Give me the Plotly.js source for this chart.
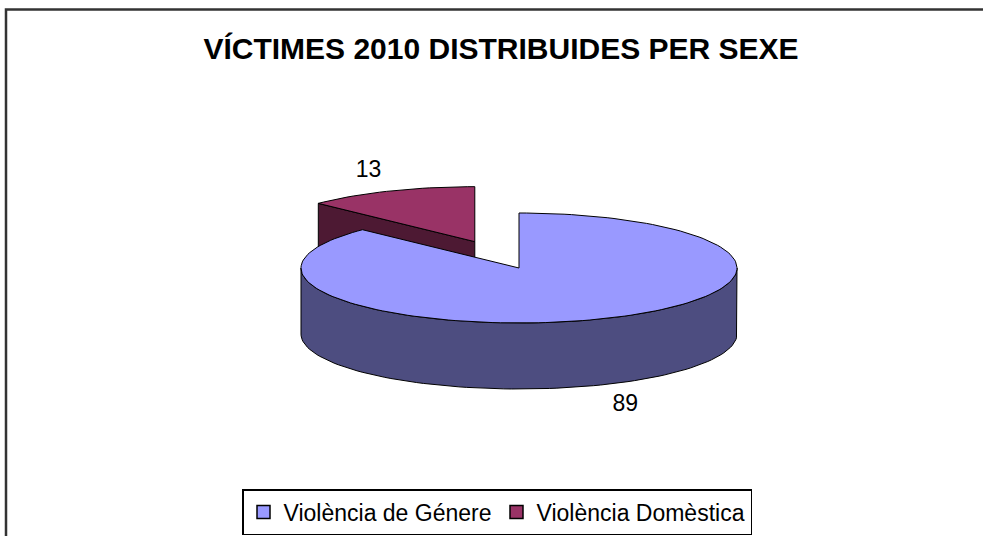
<!DOCTYPE html>
<html>
<head>
<meta charset="utf-8">
<script src="https://cdn.plot.ly/plotly-3.0.1.min.js"></script>
<style>html,body{margin:0;padding:0;background:#fff;}#chart{width:983px;height:536px;}</style>
</head>
<body>
<div id="chart"></div>
<script>
// ---- data ----
var labels = ['Violència de Génere', 'Violència Domèstica'];
var values = [89, 13];
var topColors = ['#9999FF', '#993366'];
var sideColors = ['#4D4D80', '#4D1933'];
var titleText = 'VÍCTIMES 2010 DISTRIBUIDES PER SEXE';

// ---- geometry of the 3D pie (pixel-like axis units) ----
var W = 983, H = 536;
var cx = 519, cy = 268, rx = 218, ry = 55, depth = 66;
var pulls = [0, 0.52];
var total = values.reduce(function (a, b) { return a + b; }, 0);
var RAD = Math.PI / 180;

function rim(x0, y0, a, dz) { return [x0 + rx * Math.cos(a * RAD), y0 - ry * Math.sin(a * RAD) + (dz || 0)]; }
function arc(x0, y0, a1, a2, dz) {
  var pts = [], n = Math.max(2, Math.ceil(Math.abs(a2 - a1) / 2));
  for (var i = 0; i <= n; i++) { pts.push(rim(x0, y0, a1 + (a2 - a1) * i / n, dz)); }
  return pts;
}
function trace(pts, fill, name) {
  return {
    x: pts.map(function (p) { return p[0]; }), y: pts.map(function (p) { return p[1]; }),
    mode: 'lines', fill: 'toself', fillcolor: fill, line: { color: '#000', width: 1 },
    hoverinfo: 'skip', showlegend: false, name: name
  };
}

// slices: start at 12 o'clock, clockwise
var slices = [], start = 90;
values.forEach(function (v, i) {
  var sweep = v / total * 360;
  var a1 = start, a2 = start - sweep, mid = (a1 + a2) / 2;
  var ox = cx + pulls[i] * rx * Math.cos(mid * RAD);
  var oy = cy - pulls[i] * ry * Math.sin(mid * RAD);
  slices.push({ i: i, a1: a1, a2: a2, mid: mid, ox: ox, oy: oy });
  start = a2;
});

var backTraces = [], frontTraces = [];
slices.forEach(function (s) {
  var tr = [];
  // cut faces visible toward viewer
  [s.a1, s.a2].forEach(function (a, k) {
    var normal = k === 0 ? a + 90 : a - 90;
    if (Math.sin(normal * RAD) < -0.05) {
      var pA = [s.ox, s.oy], pR = rim(s.ox, s.oy, a);
      var face = [pA, pR, [pR[0], pR[1] + depth], [pA[0], pA[1] + depth], pA];
      tr.push(trace(face, sideColors[s.i], labels[s.i]));
    }
  });
  // outer side (front half only)
  var lo = Math.max(s.a2, -180), hi = Math.min(s.a1, 0);
  var lo2 = Math.max(s.a2, 180), hi2 = Math.min(s.a1, 360);
  [[lo, hi], [lo2 - 360, hi2 - 360]].forEach(function (r) {
    if (r[1] - r[0] > 0.1) {
      var top = arc(s.ox, s.oy, r[0], r[1], 0);
      var bot = arc(s.ox, s.oy, r[1], r[0], depth);
      tr.push(trace(top.concat(bot, [top[0]]), sideColors[s.i], labels[s.i]));
    }
  });
  // top face
  var topPts = [[s.ox, s.oy]].concat(arc(s.ox, s.oy, s.a1, s.a2, 0), [[s.ox, s.oy]]);
  tr.push(trace(topPts, topColors[s.i], labels[s.i]));
  if (s.oy < cy) backTraces = backTraces.concat(tr); else frontTraces = frontTraces.concat(tr);
});

// value labels
var lx = [], ly = [];
slices.forEach(function (s) {
  var front = Math.sin(s.mid * RAD) < 0;
  lx.push(s.ox + 1.25 * rx * Math.cos(s.mid * RAD));
  ly.push(s.oy - 1.4 * ry * Math.sin(s.mid * RAD) + (front ? depth : 0));
});
var labelTrace = {
  x: lx, y: ly, mode: 'text', text: values.map(String), textposition: 'middle center',
  textfont: { family: 'Liberation Sans, Arial, sans-serif', size: 23, color: '#000' },
  hoverinfo: 'skip', showlegend: false
};

// legend entries
var legendTraces = labels.map(function (l, i) {
  return {
    x: [null], y: [null], mode: 'markers', name: l, showlegend: true,
    marker: { symbol: 'square', size: 13, color: topColors[i], line: { color: '#000', width: 1.5 } }
  };
});

var data = backTraces.concat(frontTraces, [labelTrace], legendTraces);

var layout = {
  width: W, height: H,
  margin: { l: 0, r: 0, t: 0, b: 0 },
  paper_bgcolor: '#fff', plot_bgcolor: '#fff',
  xaxis: { range: [0, W], visible: false, fixedrange: true },
  yaxis: { range: [H, 0], visible: false, fixedrange: true },
  title: {
    text: '<b>' + titleText + '</b>', x: 501 / W, xanchor: 'center', xref: 'paper',
    y: 1 - 48 / H, yanchor: 'middle', yref: 'paper',
    font: { family: 'Liberation Sans, Arial, sans-serif', size: 30, color: '#000' }
  },
  showlegend: true,
  legend: {
    orientation: 'h', x: 497 / W, xanchor: 'center', y: 1 - 512 / H, yanchor: 'middle',
    bordercolor: '#000', borderwidth: 1.5, bgcolor: '#fff',
    font: { family: 'Liberation Sans, Arial, sans-serif', size: 23, color: '#000' },
    itemwidth: 30, tracegroupgap: 0
  },
  shapes: [{
    type: 'path', xref: 'paper', yref: 'paper',
    path: 'M ' + (6 / W) + ',-0.01 L ' + (6 / W) + ',' + (1 - 9.5 / H) + ' L 1.01,' + (1 - 9.5 / H),
    line: { color: '#333', width: 2.5 }
  }]
};

Plotly.newPlot('chart', data, layout, { displayModeBar: false, staticPlot: true });
</script>
</body>
</html>
